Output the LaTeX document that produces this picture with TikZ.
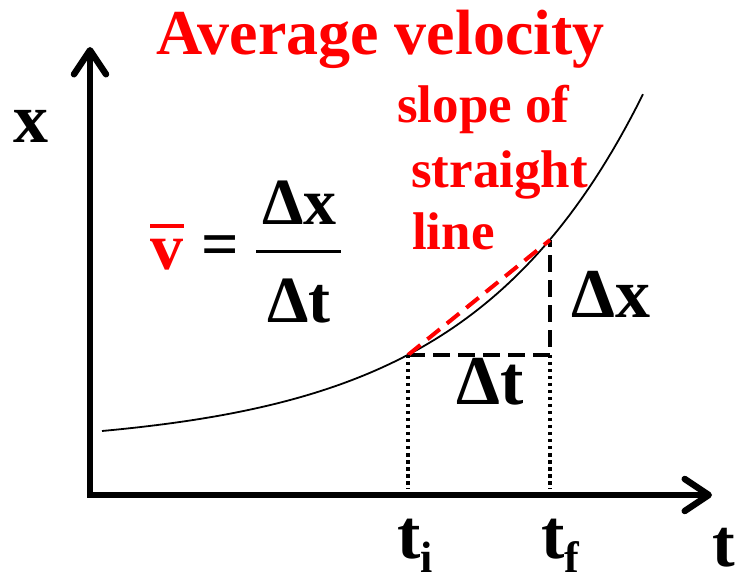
\documentclass[tikz,border=0pt]{standalone}
\usepackage{fontspec}
\setmainfont{Liberation Serif}
\usetikzlibrary{arrows.meta}

\begin{document}
\begin{tikzpicture}[x=1pt, y=-1pt,
    lbl/.style={inner sep=0pt, anchor=base west, font=\fontsize{#1}{#1}\selectfont\bfseries},
    axis/.style={line width=6.5pt, {Straight Barb[length=24pt, width=32pt, round]}-{Straight Barb[length=24pt, width=32pt, round]}},
    curve/.style={line width=1.8pt},
    secant/.style={red, line width=4pt, dash pattern=on 16pt off 9pt},
    legs/.style={line width=4pt, dash pattern=on 17pt off 8pt},
    drop/.style={line width=3.5pt, dash pattern=on 3.5pt off 3.5pt}]
            \useasboundingbox (0,0) rectangle (740,580);
            % axes
            \coordinate (O) at (90,495);
            \coordinate (xtip) at (90,47);
            \coordinate (ttip) at (712,495);
            \draw[axis] (xtip) -- (O) -- (ttip);
            % x(t) curve and the two instants
            \draw[curve] plot[domain=102:643, samples=90] (\x, {431-16.1*(exp(0.0057*(\x-102))-1)});
            \coordinate (ti) at (408,355);
            \coordinate (tf) at (550,240);
            \coordinate (corner) at (tf |- ti);
            \coordinate (tibase) at (408,489);
            \coordinate (tfbase) at (550,489);
            \draw[legs] (ti) -- (corner) -- (tf);
            \draw[secant] (ti) -- (tf);
            \draw[drop] (ti) -- (tibase);
            \draw[drop] (corner) -- (tfbase);
            % labels
            \node[lbl=64, red] (title) at (156,55) {Average velocity};
            \node[lbl=53, red] (slopeA) at (397,123) {slope of};
            \node[lbl=53, red] (slopeB) at (411,188) {straight};
            \node[lbl=53, red] (slopeC) at (412,250) {line};
            \node[lbl=70] (xlab) at (13,143) {x};
            \node[lbl=68] (tlab) at (712,566) {t};
            \node[lbl=70] (tilab) at (397,558) {t\raisebox{-14pt}{\fontsize{44}{44}\selectfont i}};
            \node[lbl=70] (tflab) at (541,558) {t\raisebox{-14pt}{\fontsize{44}{44}\selectfont f}};
            \node[lbl=70] (dxlab) at (571,318) {Δx};
            \node[lbl=70] (dtlab) at (456,405) {Δt};
            % v = dx/dt
            \node[lbl=66, red] (vbar) at (150,270) {\rlap{\raisebox{42pt}{\rule{34pt}{4pt}}}v};
            \node[inner sep=0pt, font=\fontsize{66}{66}\selectfont\bfseries] (eq) at (220,251) {=};
            \node[lbl=66] (num) at (262,225) {Δx};
            \node[lbl=66] (den) at (267,323) {Δt};
            \coordinate (barL) at (256,252);
            \coordinate (barR) at (341,252);
            \draw[line width=3pt] (barL) -- (barR);
\end{tikzpicture}
\end{document}
